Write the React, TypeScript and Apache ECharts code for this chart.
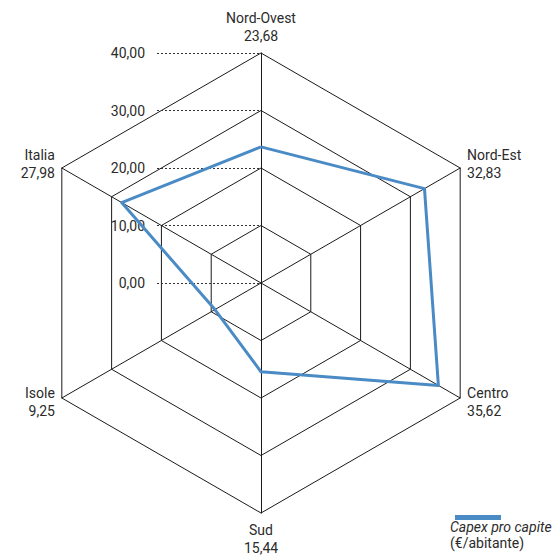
import React, { useEffect, useRef } from "react";
import * as echarts from "echarts";

const regions = ["Nord-Ovest", "Italia", "Isole", "Sud", "Centro", "Nord-Est"];
const capexValues = [23.68, 27.98, 9.25, 15.44, 35.62, 32.83];
const seriesName = "Capex pro capite";
const unitLabel = "(€/abitante)";
const axisMin = 0;
const axisMax = 40;
const axisStep = 10;

const fmt = (v: number) => v.toFixed(2).replace(".", ",");
const FONT = "Roboto";
const TEXT = "#2b2b2b";
const BLUE = "#4a8bc6";

export default function App() {
  const ref = useRef<HTMLDivElement>(null);
  useEffect(() => {
    document.body.style.margin = "0";
    const chart = echarts.init(ref.current!, null, { renderer: "svg" });
    const cx = 261, cy = 283, R = 230;
    chart.setOption({
      animation: false,
      backgroundColor: "#ffffff",
      textStyle: { fontFamily: FONT },
      grid: { left: 157, top: cy - R, width: cx - 157, height: R },
      xAxis: { type: "value", show: false, min: 0, max: 1 },
      yAxis: {
        type: "value",
        min: axisMin,
        max: axisMax,
        interval: axisStep,
        axisLine: { show: false },
        axisTick: { show: false },
        axisLabel: {
          formatter: (v: number) => fmt(v),
          margin: 12,
          color: TEXT,
          fontSize: 14,
          fontFamily: FONT,
        },
        splitLine: { lineStyle: { type: [2, 2], color: "#333", width: 1 } },
      },
      radar: {
        center: [cx, cy],
        radius: R,
        startAngle: 90,
        splitNumber: 4,
        shape: "polygon",
        indicator: regions.map((n) => ({ name: n, min: axisMin, max: axisMax })),
        axisName: {
          formatter: (name: string) => {
            const i = regions.indexOf(name);
            return name + "\n" + fmt(capexValues[i]);
          },
          color: TEXT,
          fontSize: 14,
          fontFamily: FONT,
          lineHeight: 18,
        },
        nameGap: 8,
        axisLine: { lineStyle: { color: "#1a1a1a", width: 1 } },
        splitLine: { lineStyle: { color: "#1a1a1a", width: 1 } },
        splitArea: { show: false },
        axisLabel: { show: false },
        axisTick: { show: false },
      },
      legend: {
        data: [seriesName],
        left: 450,
        top: 510,
        icon: "rect",
        itemWidth: 46,
        itemHeight: 5,
        formatter: () => "",
        selectedMode: false,
        itemStyle: { color: BLUE, borderWidth: 0 },
      },
      series: [
        {
          type: "radar",
          name: seriesName,
          symbol: "none",
          data: [{ value: capexValues, name: seriesName }],
          lineStyle: { color: BLUE, width: 3 },
          itemStyle: { color: BLUE },
        },
      ],
      graphic: [
        {
          type: "text",
          left: 450,
          top: 520,
          style: {
            text: seriesName,
            font: `italic 14px ${FONT}`,
            fill: TEXT,
          },
        },
        {
          type: "text",
          left: 450,
          top: 536,
          style: {
            text: unitLabel,
            font: `14px ${FONT}`,
            fill: TEXT,
          },
        },
      ],
    });
    return () => chart.dispose();
  }, []);
  return <div ref={ref} style={{ width: 558, height: 555 }} />;
}
